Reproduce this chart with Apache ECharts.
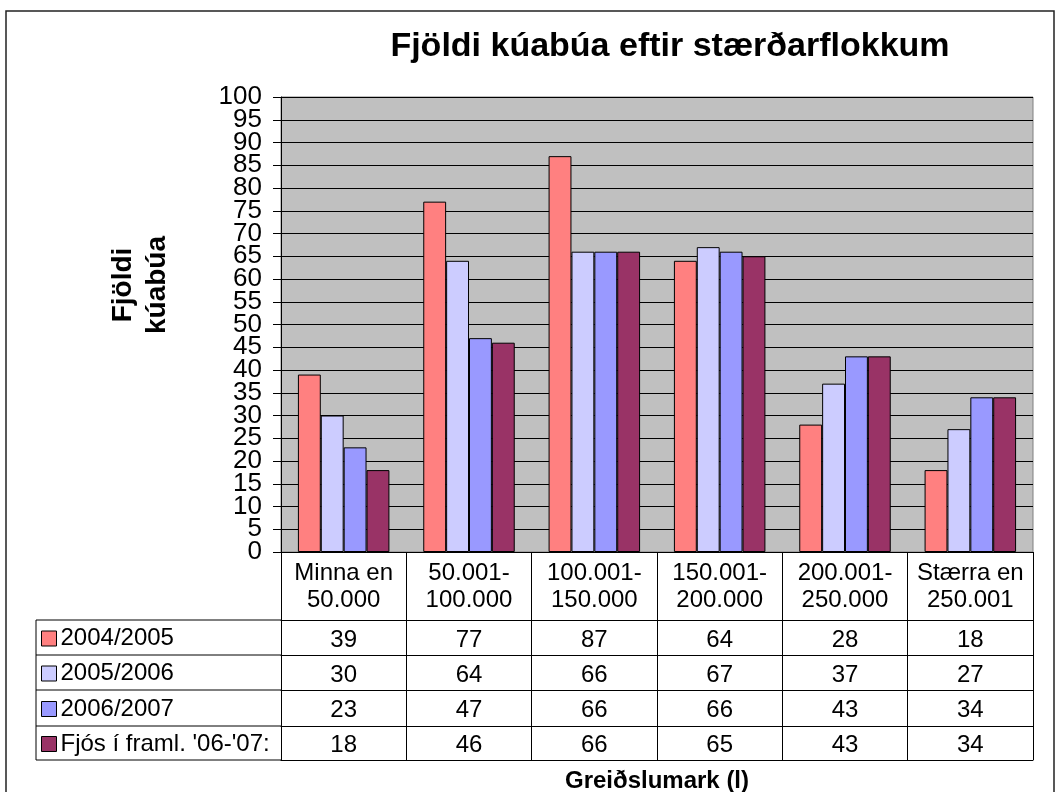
<!DOCTYPE html>
<html>
<head>
<meta charset="utf-8">
<script src="https://cdn.jsdelivr.net/npm/echarts@6/dist/echarts.min.js"></script>
<style>
html,body{margin:0;padding:0;background:#fff;}
#chart{width:1058px;height:792px;}
</style>
</head>
<body>
<div id="chart"></div>
<script>
// ---- data ----
const categories = ['Minna en\n50.000', '50.001-\n100.000', '100.001-\n150.000', '150.001-\n200.000', '200.001-\n250.000', 'Stærra en\n250.001'];
const seriesNames = ['2004/2005', '2005/2006', '2006/2007', "Fjós í framl. '06-'07:"];
const v2004 = [39, 77, 87, 64, 28, 18];
const v2005 = [30, 64, 66, 67, 37, 27];
const v2006 = [23, 47, 66, 66, 43, 34];
const vFjos = [18, 46, 66, 65, 43, 34];
const yMin = 0, yMax = 100, yStep = 5;
const titleText = 'Fjöldi kúabúa eftir stærðarflokkum';
const yTitle = 'Fjöldi\nkúabúa';
const xTitle = 'Greiðslumark (l)';

// ---- styles / layout ----
const colors = ['#FF8080', '#CCCCFF', '#9999FF', '#993366'];
const FONT = '"Liberation Sans", Arial, sans-serif';
const W = 1058, H = 792;
const gLeft = 281, gTop = 97, gRight = 1033, gBottom = 552;
const headerH = 68;
const rowLines = [620, 655, 690, 726, 760]; // table row boundaries
const tableLeft = 36;
const TFS = 24; // table font size

const allValues = [v2004, v2005, v2006, vFjos];

const chart = echarts.init(document.getElementById('chart'), null, {renderer: 'canvas'});

const xAxes = [];
// header axis (category names)
xAxes.push({
  type: 'category', data: categories, position: 'bottom', offset: 0, gridIndex: 0,
  axisLine: {show: true, onZero: false, lineStyle: {color: '#000', width: 1}},
  axisTick: {show: true, length: headerH, lineStyle: {color: '#000', width: 1}},
  axisLabel: {show: true, interval: 0, margin: 8, color: '#000', fontFamily: FONT, fontSize: TFS, lineHeight: 27},
  splitLine: {show: false}
});
// one axis per table row
for (let r = 0; r < 4; r++) {
  const vals = allValues[r];
  const top = rowLines[r];
  const h = rowLines[r + 1] - rowLines[r];
  xAxes.push({
    type: 'category', data: categories, position: 'bottom', offset: top - gBottom, gridIndex: 0,
    axisLine: {show: true, onZero: false, lineStyle: {color: '#000', width: 1}},
    axisTick: {show: true, length: h, lineStyle: {color: '#000', width: 1}},
    axisLabel: {show: true, interval: 0, margin: Math.round(h / 2 - 10), color: '#000', fontFamily: FONT, fontSize: TFS, lineHeight: 24,
      formatter: (function (arr) { return function (v, i) { return String(arr[i]); }; })(vals)},
    splitLine: {show: false}
  });
}
// closing line of the table
xAxes.push({
  type: 'category', data: categories, position: 'bottom', offset: rowLines[4] - gBottom, gridIndex: 0,
  axisLine: {show: true, onZero: false, lineStyle: {color: '#000', width: 1}},
  axisTick: {show: false}, axisLabel: {show: false}, splitLine: {show: false}
});

const legends = seriesNames.map(function (name, i) {
  const c = (rowLines[i] + rowLines[i + 1]) / 2;
  return {
    data: [name], orient: 'vertical', left: tableLeft + 5, top: c - 11, padding: 0,
    itemWidth: 15, itemHeight: 15, itemGap: 0, selectedMode: false,
    icon: 'rect',
    itemStyle: {borderColor: '#000', borderWidth: 1},
    textStyle: {color: '#000', fontFamily: FONT, fontSize: TFS, lineHeight: 24, padding: [0, 0, 0, -1]}
  };
});

const graphics = [
  {type: 'rect', shape: {x: 6, y: 11, width: 1048, height: 800}, style: {fill: 'none', stroke: '#222', lineWidth: 1.5}, z: -1},
  {type: 'text', x: 670, y: 47, style: {text: titleText, font: 'bold 34px ' + FONT, fill: '#000', textAlign: 'center', textVerticalAlign: 'middle'}},
  {type: 'text', x: 140, y: 285, rotation: Math.PI / 2, style: {text: yTitle, font: 'bold 28px ' + FONT, lineHeight: 34, fill: '#000', textAlign: 'center', textVerticalAlign: 'middle', align: 'center', verticalAlign: 'middle'}},
  {type: 'text', x: (gLeft + gRight) / 2, y: 781, style: {text: xTitle, font: 'bold 24px ' + FONT, fill: '#000', textAlign: 'center', textVerticalAlign: 'middle'}},
  {type: 'line', shape: {x1: tableLeft, y1: rowLines[0], x2: tableLeft, y2: rowLines[4]}, style: {stroke: '#000', lineWidth: 1}}
];
rowLines.forEach(function (y) {
  graphics.push({type: 'line', shape: {x1: tableLeft, y1: y, x2: gLeft, y2: y}, style: {stroke: '#000', lineWidth: 1}});
});

const yLabelStyle = {color: '#000', fontFamily: FONT, fontSize: 26, margin: 19, lineHeight: 22, hideOverlap: false};
const option = {
  animation: false,
  backgroundColor: '#fff',
  textStyle: {fontFamily: FONT},
  grid: {left: gLeft, top: gTop, right: W - gRight, bottom: H - gBottom, show: true, backgroundColor: '#C0C0C0', borderColor: '#808080', borderWidth: 1},
  legend: legends,
  xAxis: xAxes,
  yAxis: [{
    // inner ticks (5 .. 95)
    type: 'value', min: yMin, max: yMax, interval: yStep, position: 'left',
    axisLine: {show: true, onZero: false, lineStyle: {color: '#000', width: 1}},
    axisTick: {show: true, length: 8, lineStyle: {color: '#000'}},
    axisLabel: Object.assign({}, yLabelStyle, {formatter: function (v) { return (v === yMin || v === yMax) ? '' : String(v); }}),
    splitLine: {show: true, lineStyle: {color: '#000', width: 1}}
  }, {
    // end ticks (0 and 100)
    type: 'value', min: yMin, max: yMax, interval: yStep, position: 'left', offset: 0,
    axisLine: {show: false, onZero: false}, axisTick: {show: false}, splitLine: {show: false},
    axisLabel: Object.assign({}, yLabelStyle, {formatter: function (v) { return (v === yMin || v === yMax) ? String(v) : ''; }})
  }],
  series: seriesNames.map(function (name, i) {
    return {
      name: name, type: 'bar', xAxisIndex: 0, yAxisIndex: 0, data: allValues[i],
      barGap: '0%', barCategoryGap: '27%',
      itemStyle: {color: colors[i], borderColor: '#000', borderWidth: 1}
    };
  }),
  graphic: graphics
};
chart.setOption(option);
</script>
</body>
</html>
